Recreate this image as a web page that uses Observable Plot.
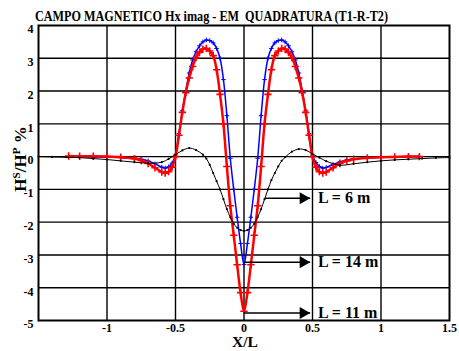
<!DOCTYPE html>
<html><head><meta charset="utf-8">
<script src="https://cdn.jsdelivr.net/npm/d3@7"></script>
<script src="https://cdn.jsdelivr.net/npm/@observablehq/plot@0.6"></script>
<style>body{margin:0;background:#fff;overflow:hidden}</style>
</head><body><div id="chart"></div>
<script>
const titleText = "CAMPO MAGNETICO Hx imag - EM  QUADRATURA (T1-R-T2)";
const xLabel = "X/L";
const xTicks = [-1, -0.5, 0, 0.5, 1, 1.5];
const yTicks = [-5, -4, -3, -2, -1, 0, 1, 2, 3, 4];

// shared abscissa for L = 11 m (red) and L = 14 m (blue)
const xRB = [-1.28,-1.2,-1.1,-1,-0.9,-0.8,-0.75,-0.7,-0.65,-0.6,-0.575,-0.55,-0.525,-0.5,-0.475,-0.45,-0.425,-0.4,-0.375,-0.35,-0.325,-0.3,-0.275,-0.25,-0.225,-0.2,-0.175,-0.15,-0.125,-0.1,-0.075,-0.05,-0.025,
  0,
  0.025,0.05,0.075,0.1,0.125,0.15,0.175,0.2,0.225,0.25,0.275,0.3,0.325,0.35,0.375,0.4,0.425,0.45,0.475,0.5,0.525,0.55,0.575,0.6,0.65,0.7,0.75,0.8,0.9,1,1.1,1.2,1.28];

const red11 = [0.02,0.01,0.01,0,-0.02,-0.06,-0.12,-0.21,-0.34,-0.47,-0.5,-0.46,-0.32,0,0.65,1.35,1.95,2.4,2.75,3.02,3.18,3.28,3.3,3.22,3.08,2.65,1.9,1.0,-0.3,-1.5,-2.4,-3.3,-4.15,
  -4.72,
  -4.15,-3.3,-2.4,-1.5,-0.3,1.0,1.9,2.65,3.08,3.22,3.3,3.28,3.18,3.02,2.75,2.4,1.95,1.35,0.65,0,-0.32,-0.46,-0.5,-0.47,-0.34,-0.21,-0.13,-0.08,-0.04,-0.02,-0.01,0,0];

const blue14 = [0,0,-0.01,-0.02,-0.03,-0.05,-0.08,-0.13,-0.22,-0.32,-0.35,-0.31,-0.2,0.05,0.7,1.4,2.0,2.55,2.95,3.2,3.38,3.5,3.56,3.54,3.47,3.3,3.0,2.35,1.25,-0.05,-1.0,-1.85,-2.65,
  -3.29,
  -2.65,-1.85,-1.0,-0.05,1.25,2.35,3.0,3.3,3.47,3.54,3.56,3.5,3.38,3.2,2.95,2.55,2.0,1.4,0.7,0.05,-0.18,-0.3,-0.35,-0.33,-0.24,-0.16,-0.1,-0.07,-0.04,-0.02,-0.01,0,0];

// L = 6 m (black)
const xBlack = [-1.5,-1.4,-1.3,-1.2,-1.1,-1,-0.9,-0.8,-0.7,-0.6,-0.55,-0.5,-0.45,-0.4,-0.35,-0.3,-0.275,-0.25,-0.225,-0.2,-0.175,-0.15,-0.125,-0.1,-0.075,-0.05,-0.025,
  0,
  0.025,0.05,0.075,0.1,0.125,0.15,0.175,0.2,0.225,0.25,0.275,0.3,0.35,0.4,0.45,0.5,0.55,0.6,0.7,0.8,0.9,1,1.1,1.2,1.3,1.4,1.5];
const black6 = [0,-0.01,-0.02,-0.03,-0.06,-0.09,-0.13,-0.17,-0.2,-0.17,-0.07,0.06,0.19,0.26,0.2,0.06,-0.06,-0.25,-0.5,-0.75,-1.0,-1.3,-1.6,-1.85,-2.05,-2.17,-2.24,
  -2.27,
  -2.24,-2.17,-2.05,-1.85,-1.6,-1.3,-1.0,-0.72,-0.5,-0.3,-0.13,-0.02,0.15,0.23,0.2,0.08,-0.03,-0.14,-0.26,-0.22,-0.17,-0.13,-0.1,-0.08,-0.06,-0.04,-0.03];

// annotation arrows
const arrowLabels = ["L = 6 m", "L = 14 m", "L = 11 m"];
const arrowY = [-1.27, -3.22, -4.77];
const arrowFrom = [0.155, 0, 0];
const arrowTo = [0.483, 0.483, 0.483];
const labelX = [0.54, 0.54, 0.54];

const redData = xRB.map((x, i) => ({x, y: red11[i]}));
const blueData = xRB.map((x, i) => ({x, y: blue14[i]}));
const blackData = xBlack.map((x, i) => ({x, y: black6[i]}));
const arrows = arrowLabels.map((t, i) => ({t, y: arrowY[i], x1: arrowFrom[i], x2: arrowTo[i], lx: labelX[i]}));

const serif = "'Liberation Serif','Times New Roman',serif";

const plot = Plot.plot({
  width: 459, height: 351,
  marginTop: 25, marginBottom: 31, marginLeft: 38, marginRight: 10,
  style: {fontFamily: serif, fontWeight: "bold", background: "#fff", color: "#000", overflow: "visible"},
  x: {domain: [-1.5, 1.5]},
  y: {domain: [-5, 4]},
  marks: [
    Plot.gridX(xTicks.filter(d => d < 1.5), {stroke: "#000", strokeOpacity: 1, strokeWidth: 1.4}),
    Plot.gridY(yTicks.filter(d => d > -5 && d < 4), {stroke: "#000", strokeOpacity: 1, strokeWidth: 1.4}),
    Plot.axisX({ticks: xTicks, tickSize: 0, tickPadding: 3, tickFormat: d => String(d), fontSize: 12, label: null}),
    Plot.axisY({ticks: yTicks, tickSize: 0, tickPadding: 5, tickFormat: d => String(d), fontSize: 12, dy: 4, label: null}),
    Plot.line(blueData, {x: "x", y: "y", stroke: "#0000ff", strokeWidth: 1.5, curve: "catmull-rom"}),
    Plot.dot(blueData, {x: "x", y: "y", symbol: "plus", r: 1.6, stroke: "#0000ff", strokeWidth: 1}),
    Plot.line(redData, {x: "x", y: "y", stroke: "#ff0000", strokeWidth: 2.5, curve: "catmull-rom"}),
    Plot.dot(redData, {x: "x", y: "y", symbol: "plus", r: 2.5, stroke: "#ff0000", strokeWidth: 1.6}),
    Plot.line(blackData, {x: "x", y: "y", stroke: "#000", strokeWidth: 1, curve: "catmull-rom"}),
    Plot.dot(blackData, {x: "x", y: "y", r: 1.1, fill: "#000"}),
    Plot.link(arrows, {x1: "x1", x2: "x2", y1: "y", y2: "y", stroke: "#000", strokeWidth: 1.5}),
    Plot.dot(arrows, {x: "x2", y: "y", symbol: "triangle", r: 4.5, fill: "#000", rotate: 90, dx: -7}),
    Plot.text(arrows, {x: "lx", y: "y", text: "t", textAnchor: "start", fontSize: 16}),
    Plot.frame({stroke: "#000", strokeWidth: 2})
  ]
});
document.getElementById("chart").appendChild(plot);

const svg = d3.select(plot);
svg.append("text")
  .attr("x", 35).attr("y", 21)
  .attr("text-anchor", "start")
  .attr("font-size", 14.5).attr("font-weight", "bold").attr("font-family", serif)
  .style("white-space", "pre")
  .attr("textLength", 353).attr("lengthAdjust", "spacingAndGlyphs")
  .text(titleText);
svg.append("text")
  .attr("x", 245).attr("y", 347)
  .attr("text-anchor", "middle").attr("font-size", 15.5).attr("font-weight", "bold").attr("font-family", serif)
  .text(xLabel);
const yl = svg.append("text")
  .attr("transform", "translate(26,159) rotate(-90)")
  .attr("text-anchor", "middle").attr("font-size", 17).attr("font-weight", "bold").attr("font-family", serif);
yl.append("tspan").text("H");
yl.append("tspan").attr("dy", -6).attr("font-size", 11).text("S");
yl.append("tspan").attr("dy", 6).text("/H");
yl.append("tspan").attr("dy", -6).attr("font-size", 11).text("P");
yl.append("tspan").attr("dy", 6).text(" %");
</script>
</body></html>
